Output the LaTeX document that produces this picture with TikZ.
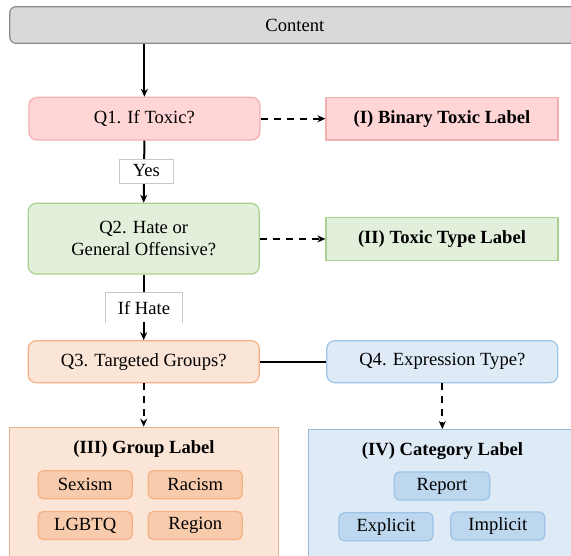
\documentclass[tikz,border=0pt]{standalone}
\usepackage{fontspec}
\setmainfont{Liberation Serif}
\usetikzlibrary{arrows.meta}
\definecolor{grayfill}{HTML}{D9D9D9}
\definecolor{grayline}{HTML}{8C8C8C}
\definecolor{pinkfill}{HTML}{FFD5D6}
\definecolor{pinkline}{HTML}{F2B0B2}
\definecolor{greenfill}{HTML}{E2EFDA}
\definecolor{greenline}{HTML}{A9D18E}
\definecolor{orfill}{HTML}{FBE5D6}
\definecolor{orline}{HTML}{F4B183}
\definecolor{orinner}{HTML}{F8CBAD}
\definecolor{orouter}{HTML}{E8B48C}
\definecolor{blfill}{HTML}{DEEBF7}
\definecolor{blline}{HTML}{9DC3E6}
\definecolor{blinner}{HTML}{BDD7EE}
\definecolor{blouter}{HTML}{9AB8D8}
\definecolor{tagline}{HTML}{C8C8C8}
\tikzset{
  base/.style={font=\fontsize{18.6}{21.5}\selectfont, inner sep=0pt, line width=1.2pt, align=center},
  qbox/.style={base, rounded corners=8pt, minimum width=231pt},
  lbox/.style={base, font=\fontsize{18.6}{21.5}\selectfont\bfseries, minimum width=232pt, minimum height=42.5pt},
  tag/.style={base, fill=white, draw=tagline, line width=0.8pt},
  chip/.style={base, rounded corners=5pt, minimum width=94pt, minimum height=28pt},
  conn/.style={line width=2pt, -{Stealth[length=8pt,width=7pt]}},
  dconn/.style={conn, dash pattern=on 7pt off 6pt},
}
\begin{document}
\begin{tikzpicture}[x=1pt,y=-1pt]
\clip (0,0) rectangle (571,556);
\fill[white] (0,0) rectangle (571,556);
% main nodes
\node[qbox, fill=grayfill, draw=grayline, rounded corners=6pt, minimum width=570pt, minimum height=36.6pt] (content) at (294.8,25) {Content};
\node[qbox, fill=pinkfill, draw=pinkline, minimum height=42.7pt] (q1) at (144.4,118.7) {Q1. If Toxic?};
\node[lbox, fill=pinkfill, draw=pinkline] (l1) at (442,118.7) {(I) Binary Toxic Label};
\node[qbox, fill=greenfill, draw=greenline, minimum height=70.7pt] (q2) at (143.7,238.7) {Q2. Hate or\\General Offensive?};
\node[lbox, fill=greenfill, draw=greenline] (l2) at (442,239) {(II) Toxic Type Label};
\node[qbox, fill=orfill, draw=orline, minimum height=42pt] (q3) at (143.7,361.7) {Q3. Targeted Groups?};
\node[qbox, fill=blfill, draw=blline, minimum height=42pt] (q4) at (442.3,361.7) {Q4. Expression Type?};
% bottom containers
\node[base, fill=orfill, draw=orouter, minimum width=268.8pt, minimum height=150pt, anchor=north] (g) at (144.2,426.7) {};
\node[base, fill=blfill, draw=blouter, minimum width=272pt, minimum height=150pt, anchor=north west] (c) at (307.7,429) {};
% connectors
\draw[conn] (q1.north |- content.south) -- (q1.north);
\draw[dconn] (q1.east) -- (l1.west);
\draw[conn] (q1.south) -- (q2.north);
\draw[dconn] (q2.east |- l2.west) -- (l2.west);
\draw[conn] (q2.south) -- (q3.north);
\draw[line width=2pt] (q3.east) -- (q4.west);
\draw[dconn] (q3.south) -- (q3.south |- g.north);
\draw[dconn] (q4.south) -- (q4.south |- c.north);
% edge tags
\node[tag, minimum width=54pt, minimum height=24pt] (yes) at (146.4,171) {Yes};
\node[tag, draw=none, minimum width=76pt, minimum height=29pt] (ifhate) at (144,307.7) {If Hate};
\draw[tagline, line width=0.8pt] (ifhate.south west) -- (ifhate.north west) -- (ifhate.north east) -- (ifhate.south east);
% group label contents
\node[base, font=\fontsize{18.6}{21.5}\selectfont\bfseries] (gt) at (144,449) {(III) Group Label};
\node[chip, fill=orinner, draw=orline] (sex) at (85.2,484.7) {Sexism};
\node[chip, fill=orinner, draw=orline] (rac) at (195.3,484.7) {Racism};
\node[chip, fill=orinner, draw=orline] (lgb) at (85.2,525.5) {LGBTQ};
\node[chip, fill=orinner, draw=orline] (reg) at (195.3,525.5) {Region};
% category label contents
\node[base, font=\fontsize{18.6}{21.5}\selectfont\bfseries] (ct) at (442.5,450.7) {(IV) Category Label};
\node[chip, fill=blinner, draw=blline, minimum width=95.4pt] (rep) at (442,486) {Report};
\node[chip, fill=blinner, draw=blline] (exp) at (386,526.8) {Explicit};
\node[chip, fill=blinner, draw=blline] (imp) at (497.8,526) {Implicit};
\end{tikzpicture}
\end{document}
